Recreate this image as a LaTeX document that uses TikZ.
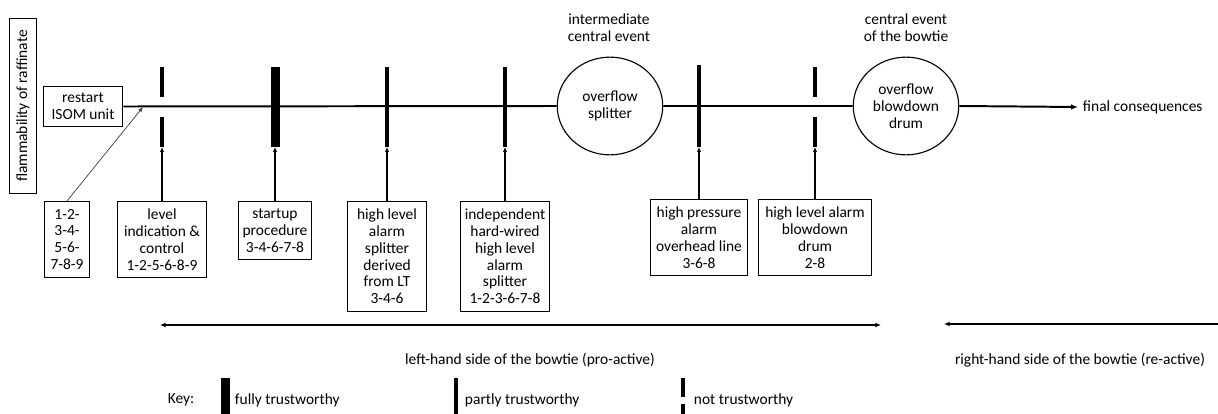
\documentclass[tikz,border=0pt]{standalone}
\usepackage{fontspec}
\setmainfont{Carlito}
\usetikzlibrary{arrows.meta,shapes.geometric}

\begin{document}
\begin{tikzpicture}[x=0.025cm,y=-0.025cm,font=\fontsize{11}{12}\selectfont,
  box/.style={draw,line width=0.7pt,align=center,inner sep=1pt,anchor=north},
  ev/.style={draw,ellipse,line width=0.8pt,align=center,minimum width=75pt,minimum height=69.5pt,inner sep=0pt},
  conn/.style={line width=1pt,-{Latex[length=3.5pt,width=3pt]}},
  full/.style={line width=6.4pt},
  part/.style={line width=2.8pt}]
\useasboundingbox (0,0) rectangle (1218,414);
% threat and top line
\node[draw,line width=0.7pt,rotate=90,minimum width=125pt,minimum height=19.8pt] (flam) at (23,106) {flammability of raffinate};
\node[box,anchor=center,minimum width=56.7pt,minimum height=29pt] (restart) at (83,106.5) {restart\\ISOM unit};
\node[ev] (ev1) at (610,106) {overflow\\splitter};
\node[ev] (ev2) at (906,106) {overflow\\blowdown\\drum};
\node[align=center] (lab1) at (609,27.5) {intermediate\\central event};
\node[align=center] (lab2) at (906,27.5) {central event\\of the bowtie};
\node[anchor=west] (fin) at (1078,107) {final consequences};
\draw[line width=1.4pt] (restart.east) -- (ev1.west) (ev1.east) -- (ev2.west);
\draw[line width=1.4pt,-{Latex[length=5pt,width=4pt]}] (ev2.east) -- (fin.west);
% barriers
\foreach \x/\t in {275/full,387/part,505/part} \draw[\t] (\x,67) -- (\x,147);
\draw[part] (699,65) -- (699,147);
\foreach \x in {162,815} \draw[part] (\x,67) -- (\x,97) (\x,117) -- (\x,147);
\foreach \x [count=\i] in {162,275,387,505,699,815} \coordinate (f\i) at (\x,147);
% boxes below
\node[box,minimum width=32.6pt,minimum height=53.9pt] (b1) at (67,201) {1-2-\\3-4-\\5-6-\\7-8-9};
\node[box,minimum width=63.8pt,minimum height=53.9pt] (b2) at (162,201) {level\\indication \&\\control\\1-2-5-6-8-9};
\node[box,minimum width=52.4pt,minimum height=41.1pt] (b3) at (275,201) {startup\\procedure\\3-4-6-7-8};
\node[box,minimum width=56pt,minimum height=78pt] (b4) at (387,201) {high level\\alarm\\splitter\\derived\\from LT\\3-4-6};
\node[box,minimum width=63.1pt,minimum height=78pt] (b5) at (505,201) {independent\\hard-wired\\high level\\alarm\\splitter\\1-2-3-6-7-8};
\node[box,minimum width=69.5pt,minimum height=53.9pt] (b6) at (699,199) {high pressure\\alarm\\overhead line\\3-6-8};
\node[box,minimum width=80.8pt,minimum height=53.9pt] (b7) at (815,199) {high level alarm\\blowdown\\drum\\2-8};
\foreach \b [count=\i] in {b2,b3,b4,b5,b6,b7} \draw[conn] (\b.north) -- (f\i);
\coordinate (hit) at (143,107);
\draw[line width=0.5pt,black!75,-{Latex[length=3.5pt,width=3pt]}] (b1.north) -- (hit);
% sides of the bowtie
\coordinate (l1) at (160,325); \coordinate (l2) at (881,325);
\coordinate (r1) at (944,324); \coordinate (r2) at (1218,324);
\draw[line width=1.2pt,{Latex[length=4pt,width=3.5pt]}-{Latex[length=4pt,width=3.5pt]}] (l1) -- (l2);
\draw[line width=1.2pt,{Latex[length=4pt,width=3.5pt]}-] (r1) -- (r2);
\node (lhs) at (530,360) {left-hand side of the bowtie (pro-active)};
\node (rhs) at (1080,360) {right-hand side of the bowtie (re-active)};
% key
\node (key) at (181,400) {Key:};
\draw[full] (225,378) -- (225,414);
\draw[part] (456,378) -- (456,414);
\draw[part] (683,378) -- (683,397) (683,404) -- (683,414);
\node[anchor=west] (k1) at (230,400) {fully trustworthy};
\node[anchor=west] (k2) at (460,400) {partly trustworthy};
\node[anchor=west] (k3) at (689,400) {not trustworthy};
\end{tikzpicture}
\end{document}
